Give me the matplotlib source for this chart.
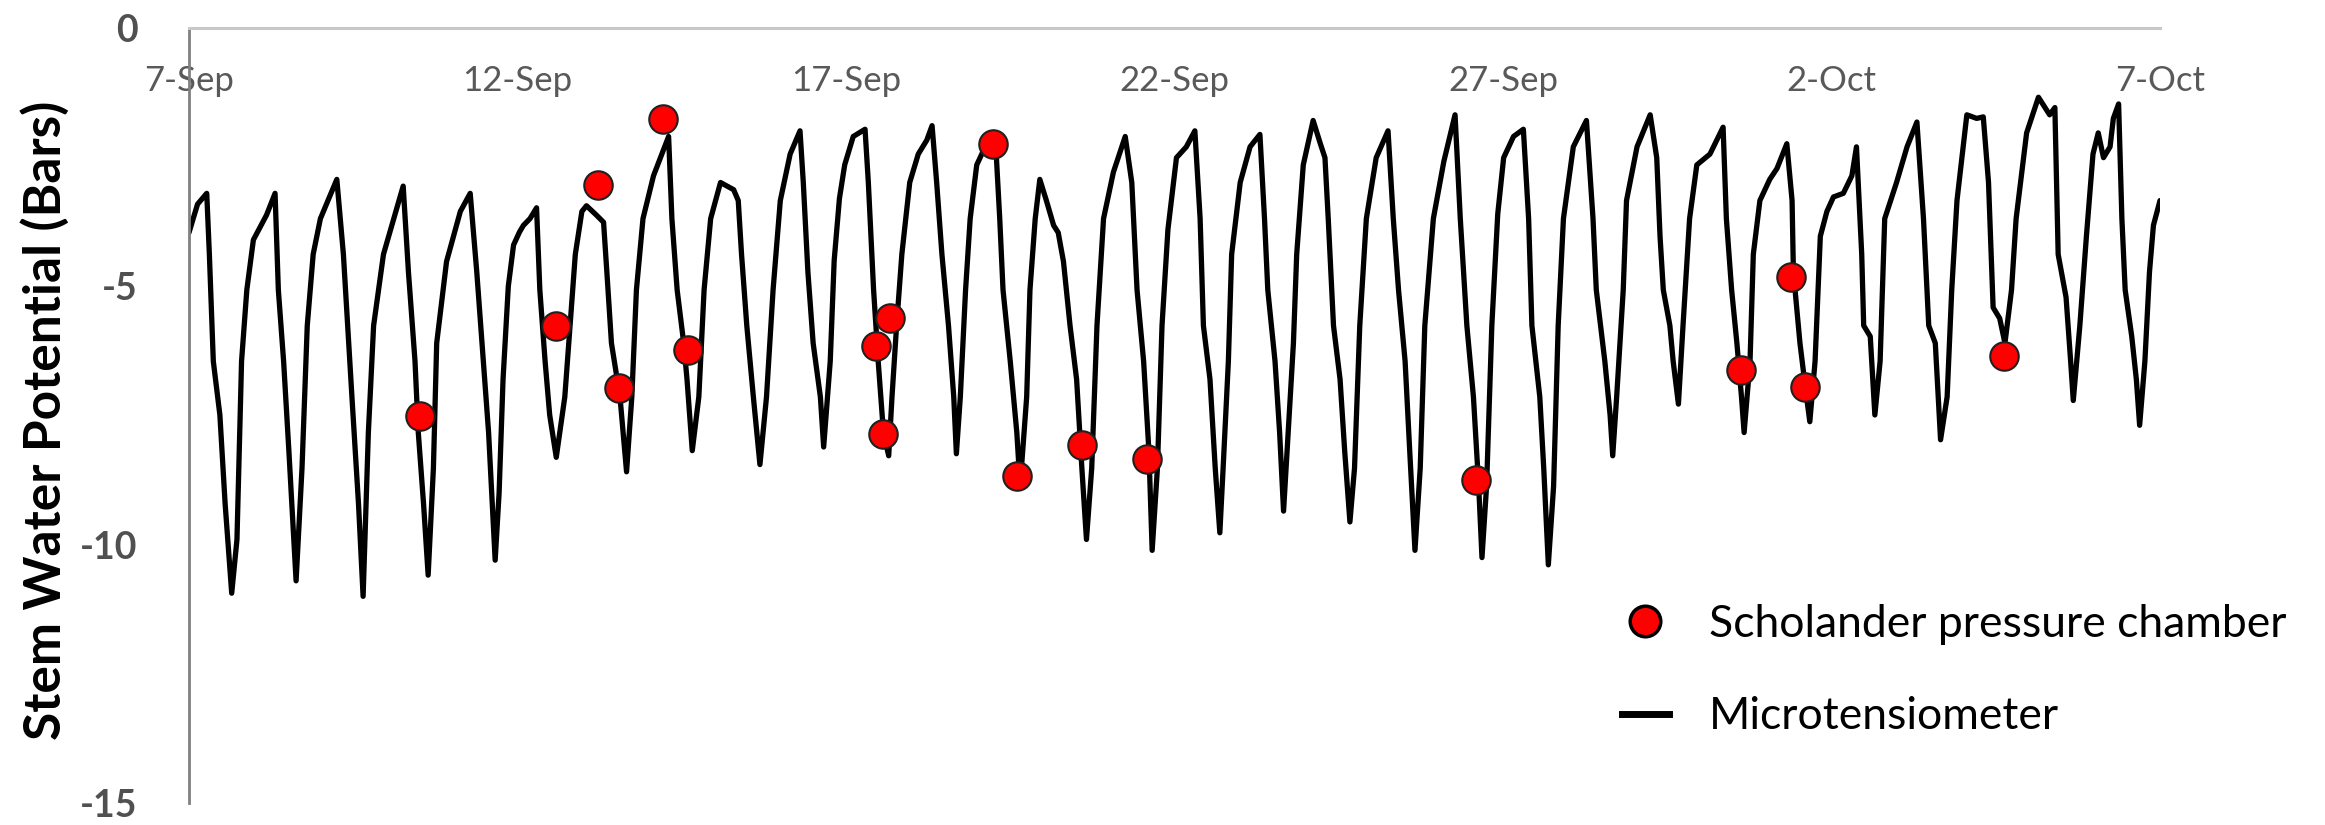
import matplotlib
matplotlib.use('Agg')
import matplotlib.pyplot as plt
from matplotlib.lines import Line2D

plt.rcParams['font.family'] = ['Lato', 'DejaVu Sans']

# Microtensiometer trace: days since 7-Sep 00:00, stem water potential (bars)
line_days = [
    0.00, 0.13, 0.27, 0.31, 0.37, 0.47, 0.55, 0.65,
    0.73, 0.80, 0.88, 0.98, 1.18, 1.31,
    1.36, 1.44, 1.52, 1.63,
    1.72, 1.80, 1.89, 2.00, 2.25,
    2.35, 2.48, 2.58, 2.65,
    2.73, 2.81, 2.96, 3.26,
    3.34, 3.44, 3.49, 3.57, 3.64,
    3.72, 3.77, 3.92, 4.13, 4.28,
    4.38, 4.48, 4.56, 4.66,
    4.72, 4.78, 4.86, 4.94, 5.03, 5.09, 5.19, 5.29,
    5.34, 5.42, 5.49, 5.59,
    5.72, 5.80, 5.88, 5.98, 6.05, 6.20, 6.31,
    6.36, 6.43, 6.56, 6.66,
    6.74, 6.81, 6.91, 7.07, 7.30,
    7.35, 7.43, 7.53, 7.58, 7.66,
    7.76, 7.84, 7.94, 8.09, 8.29, 8.36,
    8.41, 8.49, 8.59, 8.69,
    8.79, 8.89, 9.00, 9.15, 9.30,
    9.35, 9.42, 9.50, 9.61, 9.66,
    9.76, 9.82, 9.90, 9.98, 10.11, 10.29,
    10.34, 10.42, 10.49, 10.57, 10.65,
    10.70, 10.77, 10.85, 10.97, 11.10, 11.23, 11.31,
    11.38, 11.46, 11.56, 11.64, 11.68,
    11.74, 11.82, 11.89, 11.99, 12.14, 12.27,
    12.34, 12.39, 12.50, 12.60, 12.65,
    12.75, 12.80, 12.88, 12.95,
    13.05, 13.16, 13.23, 13.31, 13.41, 13.51, 13.59, 13.66,
    13.74, 13.82, 13.92, 14.07, 14.25,
    14.35, 14.43, 14.53, 14.61, 14.66,
    14.74, 14.81, 14.90, 15.03, 15.18, 15.31,
    15.39, 15.44, 15.54, 15.62, 15.69,
    15.74, 15.82, 15.87, 16.00, 16.15, 16.30,
    16.37, 16.42, 16.53, 16.60, 16.66,
    16.73, 16.81, 16.86, 16.96, 17.11, 17.22, 17.29,
    17.34, 17.42, 17.52, 17.59, 17.67,
    17.74, 17.82, 17.92, 18.07, 18.25,
    18.33, 18.41, 18.51, 18.58, 18.66,
    18.74, 18.81, 18.94, 19.10, 19.27,
    19.35, 19.45, 19.55, 19.63, 19.68,
    19.75, 19.83, 19.92, 20.01, 20.16, 20.31,
    20.39, 20.44, 20.56, 20.62, 20.69,
    20.77, 20.84, 20.92, 21.07, 21.27,
    21.37, 21.42, 21.55, 21.63, 21.67,
    21.73, 21.83, 21.88, 22.04, 22.24,
    22.34, 22.39, 22.44, 22.54, 22.59, 22.67,
    22.74, 22.84, 22.95, 23.15, 23.35,
    23.40, 23.48, 23.56, 23.63, 23.67,
    23.76, 23.81, 23.91, 24.06, 24.17, 24.32,
    24.40, 24.42, 24.52, 24.62, 24.67,
    24.75, 24.83, 24.93, 25.03, 25.18, 25.31, 25.38,
    25.46, 25.49, 25.59, 25.66,
    25.74, 25.81, 25.99, 26.15, 26.30,
    26.40, 26.48, 26.58, 26.66,
    26.76, 26.83, 26.91, 27.06, 27.21, 27.31,
    27.39, 27.46, 27.56, 27.64,
    27.74, 27.81, 27.97, 28.15, 28.32, 28.40,
    28.45, 28.57, 28.64, 28.68,
    28.78, 28.88, 28.98, 29.06, 29.14, 29.24, 29.29, 29.37,
    29.42, 29.47, 29.57, 29.64, 29.69,
    29.77, 29.84, 29.90, 30.00,
]
line_vals = [
    -3.96, -3.41, -3.20, -4.38, -6.45, -7.49, -9.21, -10.94,
    -9.90, -6.45, -5.07, -4.10, -3.62, -3.20,
    -5.07, -6.45, -8.18, -10.70,
    -8.52, -5.76, -4.38, -3.69, -2.93,
    -4.38, -7.14, -9.21, -11.00,
    -7.83, -5.76, -4.38, -3.06,
    -4.72, -6.45, -7.83, -9.21, -10.59,
    -8.52, -6.10, -4.52, -3.55, -3.20,
    -4.72, -6.45, -7.83, -10.30,
    -9.00, -6.80, -5.00, -4.20, -3.95, -3.82, -3.69, -3.48,
    -5.07, -6.45, -7.49, -8.31,
    -7.14, -5.76, -4.38, -3.55, -3.44, -3.62, -3.76,
    -4.72, -6.10, -7.14, -8.59,
    -7.14, -5.07, -3.69, -2.86, -2.10,
    -3.69, -5.07, -6.10, -6.80, -8.18,
    -7.14, -5.07, -3.69, -2.99, -3.13, -3.34,
    -4.38, -5.76, -7.14, -8.45,
    -7.14, -5.07, -3.34, -2.44, -1.99,
    -2.99, -4.72, -6.10, -7.14, -8.11,
    -6.45, -4.50, -3.30, -2.65, -2.10, -1.96,
    -2.99, -5.07, -6.45, -7.83, -8.28,
    -7.14, -5.76, -4.38, -2.99, -2.44, -2.17, -1.89,
    -2.99, -4.38, -5.76, -7.14, -8.24,
    -7.14, -5.07, -3.69, -2.65, -2.24, -2.06,
    -3.69, -5.07, -6.45, -7.83, -8.87,
    -7.14, -5.07, -3.69, -2.93,
    -3.34, -3.82, -3.96, -4.52, -5.76, -6.80, -8.52, -9.90,
    -8.52, -5.76, -3.69, -2.79, -2.10,
    -2.99, -5.07, -6.45, -8.18, -10.11,
    -8.52, -5.76, -3.90, -2.51, -2.30, -1.99,
    -3.69, -5.76, -6.80, -8.52, -9.77,
    -8.52, -6.45, -4.38, -2.99, -2.30, -2.06,
    -3.69, -5.07, -6.45, -7.83, -9.35,
    -7.83, -6.10, -4.38, -2.65, -1.79, -2.24, -2.51,
    -3.69, -5.76, -6.80, -8.18, -9.56,
    -8.52, -5.76, -3.69, -2.51, -1.99,
    -3.69, -5.07, -6.45, -8.18, -10.11,
    -8.52, -5.76, -3.69, -2.58, -1.68,
    -3.69, -5.76, -7.14, -8.87, -10.25,
    -8.87, -5.76, -3.60, -2.51, -2.10, -1.96,
    -3.69, -5.76, -7.14, -8.52, -10.39,
    -8.87, -5.76, -3.69, -2.30, -1.79,
    -3.69, -5.07, -6.45, -7.49, -8.28,
    -7.14, -5.07, -3.34, -2.30, -1.68,
    -2.51, -4.03, -5.07, -5.76, -6.45, -7.28,
    -5.76, -3.69, -2.65, -2.44, -1.92,
    -3.69, -5.07, -6.10, -7.14, -7.83,
    -6.45, -4.38, -3.34, -2.93, -2.72, -2.24,
    -3.34, -4.72, -6.10, -7.14, -7.62,
    -6.45, -4.03, -3.55, -3.27, -3.20, -2.86, -2.30,
    -4.38, -5.76, -5.97, -7.49,
    -6.45, -3.69, -2.99, -2.30, -1.82,
    -3.69, -5.76, -6.10, -7.97,
    -7.14, -5.07, -3.34, -1.68, -1.75, -1.72,
    -2.99, -5.41, -5.62, -6.10,
    -5.07, -3.69, -2.03, -1.34, -1.68, -1.54,
    -4.38, -5.21, -6.45, -7.21,
    -5.76, -4.03, -2.44, -2.03, -2.51, -2.30, -1.75, -1.47,
    -3.69, -5.07, -5.97, -6.80, -7.69,
    -6.45, -4.72, -3.82, -3.34,
]

# Scholander pressure chamber readings
dot_days = [3.52, 5.59, 6.23, 6.55, 7.21, 7.60, 10.46, 10.57, 10.67,
            12.23, 12.61, 13.59, 14.58, 19.59, 23.63, 24.39, 24.60, 27.63]
dot_vals = [-7.50, -5.77, -3.03, -6.97, -1.77, -6.23, -6.15, -7.86, -5.62,
            -2.24, -8.68, -8.07, -8.35, -8.75, -6.62, -4.81, -6.94, -6.35]

x_ticks = [0, 5, 10, 15, 20, 25, 30]
x_labels = ['7-Sep', '12-Sep', '17-Sep', '22-Sep', '27-Sep', '2-Oct', '7-Oct']
y_ticks = [0, -5, -10, -15]
y_labels = ['0', '-5', '-10', '-15']

fig = plt.figure(figsize=(23.25, 8.25), dpi=100)
ax = fig.add_axes([189 / 2325, 1 - 803 / 825, (2160 - 189) / 2325, (803 - 28) / 825])

ax.plot(line_days, line_vals, color='black', linewidth=3.8,
        solid_joinstyle='round', solid_capstyle='round', zorder=2)
ax.plot(dot_days, dot_vals, linestyle='none', marker='o', markersize=20.5,
        markerfacecolor='#FF0000', markeredgecolor='#202020', markeredgewidth=1.5, zorder=3)

ax.set_xlim(0, 30)
ax.set_ylim(-15, 0)

# spines: only top (at y=0) and left
ax.spines['right'].set_visible(False)
ax.spines['bottom'].set_visible(False)
ax.spines['top'].set_color('#C8C8C8')
ax.spines['top'].set_linewidth(2.2)
ax.spines['left'].set_color('#808080')
ax.spines['left'].set_linewidth(2)

# x tick labels sit below the top axis line
ax.set_xticks(x_ticks)
ax.set_xticklabels(x_labels)
ax.tick_params(axis='x', top=True, labeltop=True, bottom=False, labelbottom=False,
               length=0, pad=-50, labelsize=25, labelcolor='#595959')

ax.set_yticks(y_ticks)
ax.set_yticklabels(y_labels)
ax.tick_params(axis='y', length=0, pad=37, labelsize=27, labelcolor='#505050')
for label in ax.get_yticklabels():
    label.set_fontweight('bold')

fig.text(45 / 2325, 1 - 420 / 825, 'Stem Water Potential (Bars)', rotation=90,
         ha='center', va='center', fontsize=37, fontweight='bold', color='black')

handles = [
    Line2D([], [], linestyle='none', marker='o', markersize=22,
           markerfacecolor='#FF0000', markeredgecolor='black', markeredgewidth=2.5),
    Line2D([], [], color='black', linewidth=5),
]
ax.legend(handles, ['Scholander pressure chamber', 'Microtensiometer'],
          loc='upper left', bbox_to_anchor=(1622 / 2325, 1 - 604 / 825),
          bbox_transform=fig.transFigure, frameon=False, fontsize=32,
          handlelength=1.05, handletextpad=0.9, labelspacing=1.15,
          borderpad=0, borderaxespad=0)

fig.savefig('out.png', dpi=100, facecolor='white')
